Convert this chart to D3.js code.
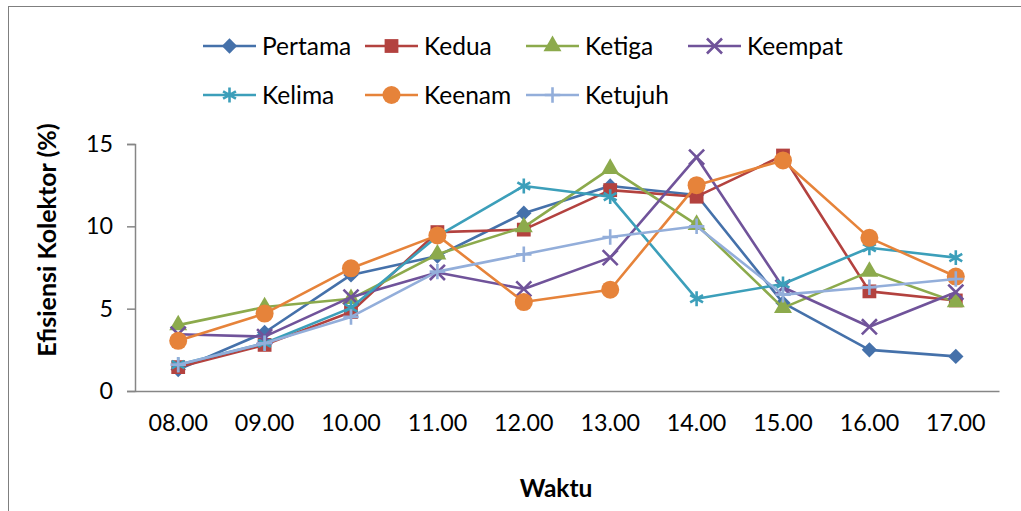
<!DOCTYPE html>
<html>
<head>
<meta charset="utf-8">
<script src="https://cdn.jsdelivr.net/npm/d3@7"></script>
<style>
  html, body { margin: 0; padding: 0; background: #fff; }
  svg { display: block; font-family: Lato, "Open Sans", sans-serif; }
</style>
</head>
<body>
<svg id="chart" width="1021" height="511"></svg>
<script>
// Hours of the day (category axis)
const categories = ["08.00", "09.00", "10.00", "11.00", "12.00", "13.00", "14.00", "15.00", "16.00", "17.00"];

// Collector efficiency (%) per measurement day
const pertama = [1.3, 3.55, 7.05, 8.2, 10.8, 12.45, 11.9, 5.35, 2.5, 2.1];
const kedua   = [1.45, 2.8, 4.8, 9.65, 9.8, 12.2, 11.8, 14.3, 6.05, 5.5];
const ketiga  = [4.0, 5.1, 5.6, 8.3, 9.95, 13.5, 10.1, 5.05, 7.25, 5.4];
const keempat = [3.45, 3.3, 5.7, 7.2, 6.2, 8.1, 14.2, 6.3, 3.9, 6.0];
const kelima  = [1.6, 2.9, 5.05, 9.4, 12.45, 11.8, 5.6, 6.5, 8.7, 8.1];
const keenam  = [3.05, 4.7, 7.45, 9.45, 5.4, 6.15, 12.5, 14.0, 9.3, 6.95];
const ketujuh = [1.6, 2.9, 4.5, 7.25, 8.3, 9.35, 10.0, 5.85, 6.3, 6.8];

const seriesNames = ["Pertama", "Kedua", "Ketiga", "Keempat", "Kelima", "Keenam", "Ketujuh"];
const seriesValues = [pertama, kedua, ketiga, keempat, kelima, keenam, ketujuh];

const yTicks = [0, 5, 10, 15];

// Styling per series: colour and marker
const colors = ["#4571AA", "#B3423F", "#8CAA4C", "#70539A", "#3C9FBA", "#E6833A", "#93AEDA"];
const markers = [
  { type: d3.symbolDiamond2 || d3.symbolDiamond, size: 150, fill: true },
  { type: d3.symbolSquare, size: 190, fill: true },
  { type: d3.symbolTriangle, size: 140, fill: true },
  { type: d3.symbolTimes, size: 150, fill: false },
  { type: d3.symbolAsterisk, size: 155, fill: false },
  { type: d3.symbolCircle, size: 255, fill: true },
  { type: d3.symbolPlus, size: 80, fill: false }
];

const svg = d3.select("#chart");

// Chart frame
svg.append("rect")
  .attr("x", 8.5).attr("y", 6.5)
  .attr("width", 1030).attr("height", 520)
  .attr("fill", "#fff")
  .attr("stroke", "#7f7f7f").attr("stroke-width", 1);

const plot = { left: 135, right: 999, top: 144, bottom: 391 };

const x = d3.scaleBand().domain(categories).range([plot.left, plot.right]).padding(0);
const y = d3.scaleLinear().domain([0, 15]).range([plot.bottom, plot.top]);

const axisColor = "#868686";
const tickFont = 23.3;

// Y axis
const yAxis = svg.append("g")
  .attr("transform", `translate(${plot.left},0)`)
  .call(d3.axisLeft(y).tickValues(yTicks).tickSize(8).tickPadding(14).tickFormat(d3.format("d")));
yAxis.select(".domain").attr("stroke", axisColor).attr("stroke-width", 1.5);
yAxis.selectAll(".tick line").attr("stroke", axisColor).attr("stroke-width", 1.5);
yAxis.selectAll(".tick text")
  .attr("fill", "#000").attr("font-size", tickFont)
  .attr("font-family", "Lato, sans-serif");

// X axis
const xAxis = svg.append("g")
  .attr("transform", `translate(0,${plot.bottom})`)
  .call(d3.axisBottom(x).tickSize(0).tickPadding(23).tickSizeOuter(0));
xAxis.select(".domain").attr("stroke", axisColor).attr("stroke-width", 1.5);
xAxis.selectAll(".tick text")
  .attr("fill", "#000").attr("font-size", tickFont)
  .attr("font-family", "Lato, sans-serif");

// Axis titles
svg.append("text")
  .attr("transform", `translate(56,240) rotate(-90)`)
  .attr("text-anchor", "middle")
  .attr("font-size", 25).attr("font-weight", "bold")
  .text("Efisiensi Kolektor (%)");

svg.append("text")
  .attr("x", 556).attr("y", 497)
  .attr("text-anchor", "middle")
  .attr("font-size", 24.5).attr("font-weight", "bold")
  .text("Waktu");

const cx = d => x(d) + x.bandwidth() / 2;

const line = d3.line()
  .x((d, i) => cx(categories[i]))
  .y(d => y(d));

function drawMarker(sel, k) {
  const m = markers[k];
  sel.attr("d", d3.symbol().type(m.type).size(m.size))
    .attr("fill", m.fill ? colors[k] : "none")
    .attr("stroke", colors[k])
    .attr("stroke-width", m.fill ? 0 : 2.6)
    .attr("stroke-linecap", "butt");
}

// Series lines and markers
seriesValues.forEach((vals, k) => {
  const g = svg.append("g").attr("class", "series");
  g.append("path")
    .datum(vals)
    .attr("d", line)
    .attr("fill", "none")
    .attr("stroke", colors[k])
    .attr("stroke-width", 2.6)
    .attr("stroke-linejoin", "round");
  g.selectAll("path.marker")
    .data(vals)
    .join("path")
    .attr("class", "marker")
    .attr("transform", (d, i) => `translate(${cx(categories[i])},${y(d)})`)
    .call(drawMarker, k);
});

// Legend: two rows, four columns
const legendCols = [203, 365, 526, 688];
const legendRows = [46, 95];
const legend = svg.append("g");
seriesNames.forEach((name, k) => {
  const lx = legendCols[k % 4];
  const ly = legendRows[Math.floor(k / 4)];
  const item = legend.append("g").attr("transform", `translate(${lx},${ly})`);
  item.append("line")
    .attr("x1", 0).attr("x2", 53).attr("y1", 0).attr("y2", 0)
    .attr("stroke", colors[k]).attr("stroke-width", 2.6);
  item.append("path")
    .attr("transform", "translate(26.5,0)")
    .call(drawMarker, k);
  item.append("text")
    .attr("x", 59).attr("y", 0).attr("dy", "0.35em")
    .attr("font-size", 24.5)
    .text(name);
});
</script>
</body>
</html>
